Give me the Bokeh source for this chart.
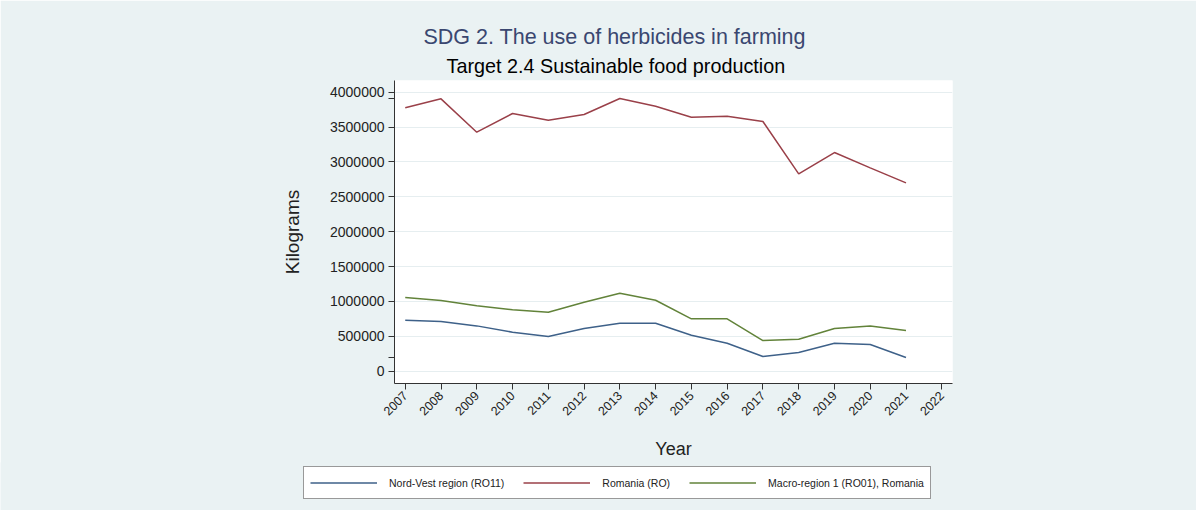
from bokeh.plotting import figure
from bokeh.models import (ColumnDataSource, FixedTicker, Legend, LegendItem, Title,
                          BasicTickFormatter, Range1d)
from bokeh.embed import file_html
from bokeh.resources import INLINE
import math

years = list(range(2007, 2022))
tick_years = list(range(2007, 2023))
romania = [3776000, 3905000, 3427000, 3695000, 3599000, 3680000, 3910000, 3800000,
           3640000, 3656000, 3580000, 2830000, 3135000, 2916000, 2700000]
macro_region = [1057000, 1013000, 937000, 880000, 846000, 990000, 1118000, 1018000,
                751000, 751000, 440000, 459000, 612000, 650000, 583000]
nord_vest = [731000, 712000, 650000, 560000, 497000, 612000, 688000, 688000,
             516000, 400000, 210000, 268000, 400000, 383000, 196000]
y_ticks = [0, 500000, 1000000, 1500000, 2000000, 2500000, 3000000, 3500000, 4000000]
series_names = ["Nord-Vest region (RO11)", "Romania (RO)", "Macro-region 1 (RO01), Romania"]

FONT = "Liberation Sans"
BG = "#eaf2f3"
colors = ["#3e6189", "#9a4049", "#62833a"]

p = figure(width=1196, height=463, output_backend="svg", toolbar_location=None,
           x_range=(2006.7, 2022.3), y_range=(-176000, 4168000),
           background_fill_color="white", border_fill_color=BG,
           min_border_left=394, min_border_right=244, min_border_top=80,
           min_border_bottom=80)
p.outline_line_color = None

p.title.text = "SDG 2. The use of herbicides in farming"
p.title.text_font = FONT
p.title.text_font_size = "21.5px"
p.title.text_font_style = "normal"
p.title.text_color = "#3a4770"
p.title.align = "left"
p.title.offset = 29
p.title.standoff = 2

sub = Title(text="Target 2.4 Sustainable food production", text_font=FONT,
            text_font_size="19.8px", text_font_style="normal", text_color="black",
            align="left", offset=52, standoff=7)
p.add_layout(sub, "above")

src = ColumnDataSource(dict(year=years, ro=romania, macro=macro_region, nv=nord_vest))
p.line("year", "nv", source=src, line_color=colors[0], line_width=1.5)
p.line("year", "ro", source=src, line_color=colors[1], line_width=1.5)
p.line("year", "macro", source=src, line_color=colors[2], line_width=1.5)

# axes
p.xaxis.ticker = FixedTicker(ticks=tick_years)
p.xaxis.major_label_orientation = math.pi / 4
p.xaxis.major_label_text_font = FONT
p.xaxis.major_label_text_font_size = "12.5px"
p.xaxis.major_label_text_color = "#222222"
p.xaxis.axis_label = "Year"
p.xaxis.axis_label_text_font = FONT
p.xaxis.axis_label_text_font_size = "18px"
p.xaxis.axis_label_text_font_style = "normal"
p.xaxis.axis_label_text_color = "#222222"
p.xaxis.axis_label_standoff = 16

all_vals = romania + macro_region + nord_vest
p.yaxis.ticker = FixedTicker(ticks=y_ticks, minor_ticks=[min(all_vals), max(all_vals)])
p.yaxis.formatter = BasicTickFormatter(use_scientific=False)
p.yaxis.major_label_text_font = FONT
p.yaxis.major_label_text_font_size = "14px"
p.yaxis.major_label_text_color = "#222222"
p.yaxis.axis_label = "Kilograms"
p.yaxis.axis_label_text_font = FONT
p.yaxis.axis_label_text_font_size = "19px"
p.yaxis.axis_label_text_font_style = "normal"
p.yaxis.axis_label_text_color = "#222222"
p.yaxis.axis_label_standoff = 24
p.yaxis.minor_tick_in = 0
p.yaxis.minor_tick_out = 6
p.yaxis.major_label_orientation = "horizontal"

for ax in (p.xaxis, p.yaxis):
    ax.axis_line_color = "#333333"
    ax.major_tick_line_color = "#333333"
    ax.minor_tick_line_color = "#333333"
    ax.major_tick_in = 0
    ax.major_tick_out = 6
    ax.major_label_standoff = 4
p.xaxis.minor_tick_line_color = None

p.xgrid.grid_line_color = None
p.ygrid.grid_line_color = "#e6eef0"
p.ygrid.grid_line_width = 1

# legend strip below the chart (separate root, so its frame is not aligned with p)
lg = figure(width=1196, height=48, output_backend="svg", toolbar_location=None,
            x_axis_type=None, y_axis_type=None, x_range=Range1d(0, 1), y_range=Range1d(0, 1),
            min_border=0, border_fill_color=BG, background_fill_color=BG)
lg.outline_line_color = None
lg.styles = {"margin-top": "-1px"}
nan = float("nan")
leg_renderers = [lg.line(x=[nan, nan], y=[nan, nan], line_color=c, line_width=1.5)
                 for c in colors]
legend = Legend(items=[LegendItem(label=n, renderers=[r]) for n, r in zip(series_names, leg_renderers)],
                orientation="horizontal", location=(303, 11))
legend.label_text_font = FONT
legend.label_text_font_size = "10.5px"
legend.label_text_color = "#222222"
legend.glyph_width = 67
legend.glyph_height = 19
legend.label_height = 19
legend.label_standoff = 12
legend.spacing = 19
legend.padding = 6
legend.margin = 0
legend.border_line_color = "#333333"
legend.border_line_width = 1
legend.background_fill_color = "white"
legend.background_fill_alpha = 1
lg.add_layout(legend, "center")

open("out.html", "w").write(file_html([p, lg], INLINE))
